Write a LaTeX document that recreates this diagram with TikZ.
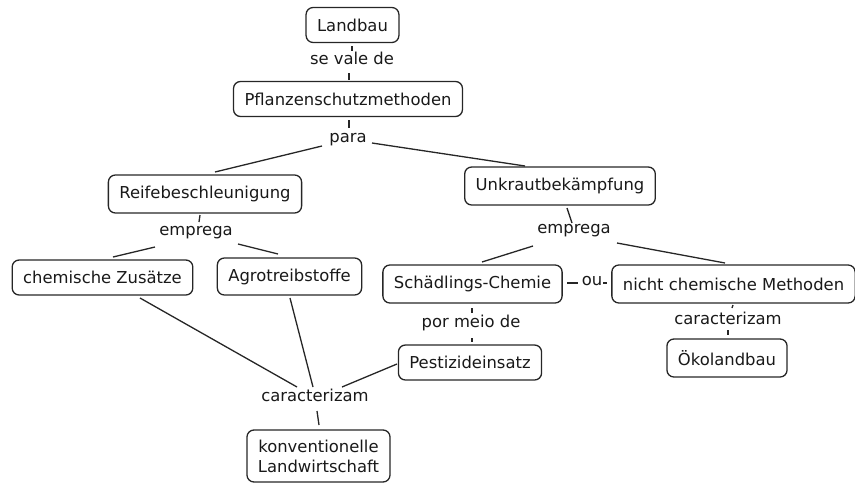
\documentclass[tikz,border=0pt]{standalone}
\usepackage{fontspec}
\setmainfont{DejaVu Sans}
\begin{document}
\begin{tikzpicture}[x=1pt,y=-1pt,
  every node/.style={font=\fontsize{16.4pt}{20pt}\selectfont, text=black!90},
  concept/.style={draw=black!85, line width=1.3pt, rounded corners=7pt,
    inner xsep=11pt, inner ysep=0pt, minimum height=35pt, align=center},
  linkword/.style={inner sep=0pt, text height=0.75em, text depth=0.25em},
  link/.style={draw=black!85, line width=1.3pt}]
\useasboundingbox (0,0) rectangle (855,483);

% concepts
\node[concept] (land)   at (352.5,25)  {Landbau};
\node[concept] (pflanz) at (348,99)    {Pflanzenschutzmethoden};
\node[concept, minimum height=38pt] (reife)  at (205,194)   {Reifebeschleunigung};
\node[concept, minimum height=38pt] (unkraut) at (560,186)  {Unkrautbekämpfung};
\node[concept] (chem)   at (102.5,277.5) {chemische Zusätze};
\node[concept, minimum height=37pt] (agro)   at (289.5,276.5) {Agrotreibstoffe};
\node[concept, minimum height=38pt] (schad)  at (472.5,284) {Schädlings-Chemie};
\node[concept, minimum height=38pt] (nicht)  at (733.5,284) {nicht chemische Methoden};
\node[concept] (pest)   at (470,362.5) {Pestizideinsatz};
\node[concept, minimum height=38pt] (oko)    at (727,358)   {Ökolandbau};
\node[concept, minimum height=52pt] (konv)   at (318.5,456) {konventionelle\\Landwirtschaft};

% linking phrases
\node[linkword] (sevale)  at (352,62)  {se vale de};
\node[linkword] (para)    at (348,140) {para};
\node[linkword] (empL)    at (196,233) {emprega};
\node[linkword] (empR)    at (574,231) {emprega};
\node[linkword] (ou)      at (592,283) {ou};
\node[linkword] (pormeio) at (471,325) {por meio de};
\node[linkword] (carB)    at (315,399) {caracterizam};
\node[linkword] (carR)    at (728,322) {caracterizam};

% connectors
\draw[link] ([shift={(-0.5,21)}]land.center) -- ([shift={(0,-11)}]sevale.center);
\draw[link] ([shift={(-3,11)}]sevale.center) -- ([shift={(1,-19)}]pflanz.center);
\draw[link] ([shift={(1,21)}]pflanz.center) -- ([shift={(1,-12)}]para.center);
\draw[link] ([shift={(-26,6)}]para.center) -- ([shift={(10,-22)}]reife.center);
\draw[link] ([shift={(24,3)}]para.center) -- ([shift={(-35,-20)}]unkraut.center);
\draw[link] ([shift={(-5,21)}]reife.center) -- ([shift={(3,-11)}]empL.center);
\draw[link] ([shift={(-41,14)}]empL.center) -- ([shift={(10.5,-20.5)}]chem.center);
\draw[link] ([shift={(42,11)}]empL.center) -- ([shift={(-11.5,-22.5)}]agro.center);
\draw[link] ([shift={(7,22)}]unkraut.center) -- ([shift={(-2,-8)}]empR.center);
\draw[link] ([shift={(-41,15)}]empR.center) -- ([shift={(9.5,-22)}]schad.center);
\draw[link] ([shift={(43,12)}]empR.center) -- ([shift={(-8.5,-21)}]nicht.center);
\draw[link] ([shift={(94.5,-1)}]schad.center) -- ([shift={(-14,0)}]ou.center);
\draw[link] ([shift={(11,0)}]ou.center) -- ([shift={(-126.5,-1)}]nicht.center);
\draw[link] ([shift={(-0.5,24)}]schad.center) -- ([shift={(1,-12)}]pormeio.center);
\draw[link] ([shift={(1,13)}]pormeio.center) -- ([shift={(2,-20.5)}]pest.center);
\draw[link] ([shift={(-73,1.5)}]pest.center) -- ([shift={(27,-12)}]carB.center);
\draw[link] ([shift={(37.5,20.5)}]chem.center) -- ([shift={(-18,-12)}]carB.center);
\draw[link] ([shift={(0.5,21.5)}]agro.center) -- ([shift={(-2,-12)}]carB.center);
\draw[link] ([shift={(2,12)}]carB.center) -- ([shift={(0.5,-31)}]konv.center);
\draw[link] ([shift={(-0.5,21)}]nicht.center) -- ([shift={(4,-14)}]carR.center);
\draw[link] ([shift={(0,8)}]carR.center) -- ([shift={(1,-23)}]oko.center);
\end{tikzpicture}
\end{document}
